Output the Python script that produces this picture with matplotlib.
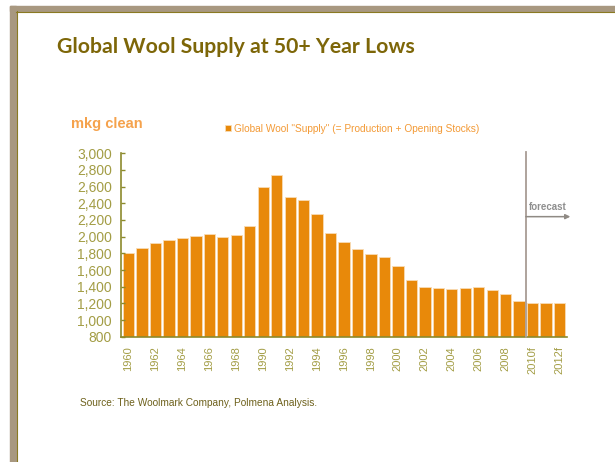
import matplotlib
matplotlib.use("Agg")
import matplotlib.pyplot as plt
from matplotlib.patches import Rectangle
from matplotlib.lines import Line2D

# --- Data ---
supply = [1800, 1860, 1920, 1960, 1980, 2010, 2035, 1995, 2020, 2125,
          2590, 2735, 2475, 2445, 2270, 2040, 1935, 1850, 1790, 1760,
          1650, 1485, 1395, 1380, 1370, 1380, 1395, 1355, 1310, 1225,
          1210, 1210, 1210]
# tick labels exactly as printed on the original (every other bar)
year_labels = ["1960", "1962", "1964", "1966", "1968", "1990", "1992", "1994",
               "1996", "1998", "2000", "2002", "2004", "2006", "2008",
               "2010f", "2012f"]
y_ticks = [800, 1000, 1200, 1400, 1600, 1800, 2000, 2200, 2400, 2600, 2800, 3000]
forecast_start = 29.5   # between the 2009 and 2010f bars

# --- Colours ---
BAR = "#e8890a"
OLIVE = "#8c8a2c"
TICK_TXT = "#a39d45"
TITLE = "#7d6608"
ORANGE_TXT = "#f39a36"
FRAME = "#a89880"

W, H = 615, 462
fig = plt.figure(figsize=(W / 100, H / 100), dpi=100)
fig.patch.set_facecolor("white")

ax = fig.add_axes([121 / W, 1 - 336.7 / H, (566.7 - 121) / W, (336.7 - 153.3) / H])

x = list(range(len(supply)))
bars = ax.bar(x, supply, width=0.84, color=BAR, edgecolor="#f8dcb5", linewidth=0.6,
              label='Global Wool "Supply" (= Production + Opening Stocks)')

ax.set_ylim(800, 3000)
ax.set_xlim(-0.56, 32.53)
ax.set_yticks(y_ticks)
ax.set_yticklabels([f"{v:,}" for v in y_ticks])
ax.set_xticks(x[::2])
ax.set_xticklabels(year_labels, rotation=90)

for s in ["top", "right"]:
    ax.spines[s].set_visible(False)
for s in ["left", "bottom"]:
    ax.spines[s].set_color(OLIVE)
    ax.spines[s].set_linewidth(1.2)

ax.tick_params(axis="y", direction="in", length=3, width=1, color=OLIVE,
               labelsize=10, labelcolor=TICK_TXT, pad=6.5)
ax.tick_params(axis="x", length=0, labelsize=8, labelcolor=TICK_TXT, pad=7)
for lab in ax.get_xticklabels() + ax.get_yticklabels():
    lab.set_fontfamily("Liberation Sans")

# forecast marker
ax.plot([forecast_start, forecast_start], [800, 3010], color="#a89c94", lw=1.3,
        clip_on=False, zorder=3)
ax.annotate("", xy=(32.8, 2240), xytext=(forecast_start, 2240),
            arrowprops=dict(arrowstyle="-|>", color="#8f8a84", lw=1.1,
                            mutation_scale=7, shrinkA=0, shrinkB=0),
            annotation_clip=False)
ax.text(forecast_start + 0.2, 2300, "forecast", color="#8f8f8f", fontsize=7,
        family="Liberation Sans", fontweight="bold", va="bottom", ha="left")

# legend
ax.legend(handles=[bars], loc="center left", bbox_to_anchor=(225 / W, 1 - 128.5 / H),
          bbox_transform=fig.transFigure, frameon=False, handlelength=0.6,
          handleheight=0.6, handletextpad=0.25, borderpad=0, borderaxespad=0,
          prop={"family": "Liberation Sans", "size": 7.3}, labelcolor=ORANGE_TXT)

# texts
fig.text(57 / W, 1 - 47 / H, "Global Wool Supply at 50+ Year Lows", color=TITLE,
         fontsize=15.3, fontweight="bold", family="Lato", va="center", ha="left")
fig.text(71 / W, 1 - 124 / H, "mkg clean", color="#f5a24c", fontsize=10.5,
         fontweight="bold", family="Liberation Sans", va="center", ha="left")
fig.text(80 / W, 1 - 403 / H, "Source: The Woolmark Company, Polmena Analysis.",
         color="#6e611c", fontsize=7.3, family="Liberation Sans", va="center", ha="left")

# slide frame (top and left border)
fig.patches.append(Rectangle((10 / W, 1 - 11 / H), (W - 10) / W, 5 / H,
                             transform=fig.transFigure, color=FRAME, zorder=0))
fig.patches.append(Rectangle((10 / W, 0), 6 / W, 1 - 6 / H,
                             transform=fig.transFigure, color=FRAME, zorder=0))
fig.lines.append(Line2D([16 / W, 1], [1 - 11.5 / H, 1 - 11.5 / H],
                        transform=fig.transFigure, color="#8a7a22", lw=0.8))
fig.lines.append(Line2D([16.5 / W, 16.5 / W], [0, 1 - 11 / H],
                        transform=fig.transFigure, color="#8a7a22", lw=0.8))

fig.savefig("out.png", dpi=100)
